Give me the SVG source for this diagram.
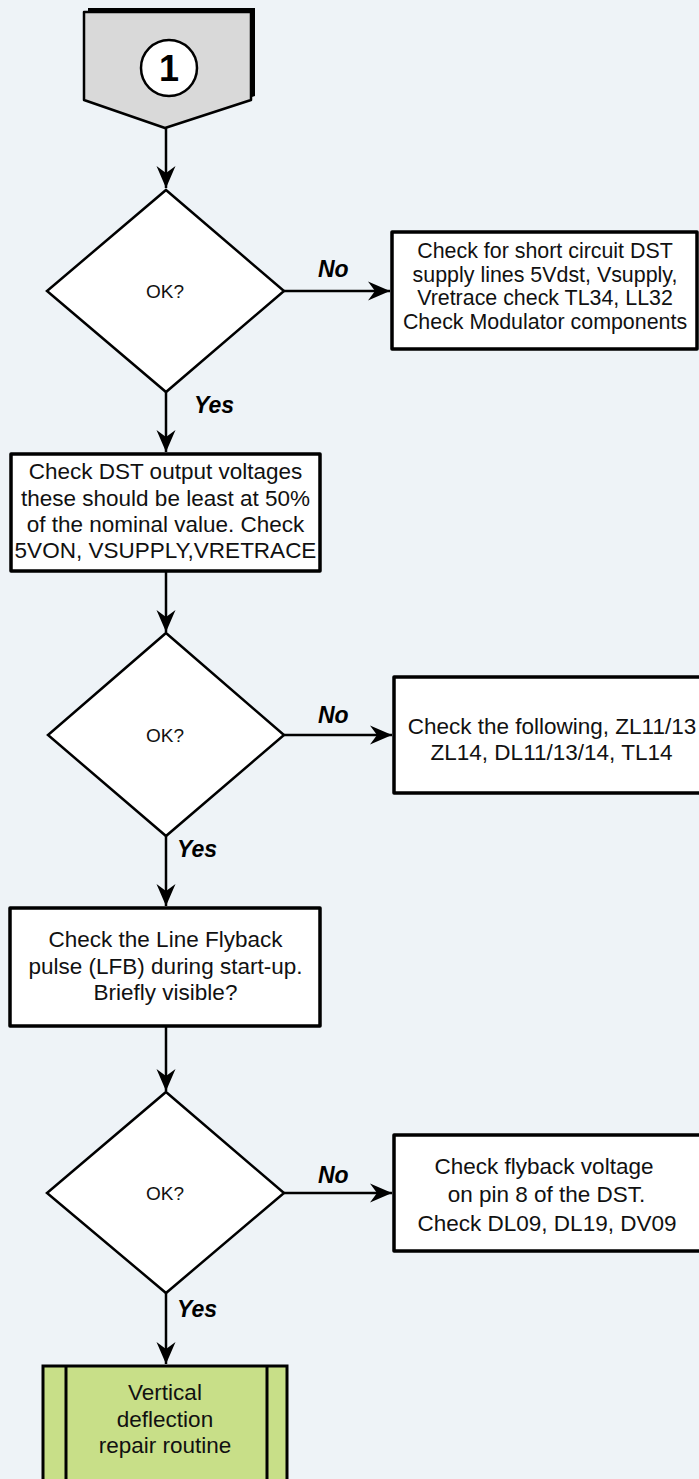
<svg xmlns="http://www.w3.org/2000/svg" width="699" height="1479" viewBox="0 0 699 1479">
<style>
.bg{fill:#eef3f7}
.box{fill:#ffffff;stroke:#000;stroke-width:3.5;stroke-linejoin:round}
.dia{fill:#ffffff;stroke:#000;stroke-width:2.5;stroke-linejoin:miter}
.t{font-family:"Liberation Sans",Arial,sans-serif;font-size:22.5px;fill:#111;text-anchor:middle}
.t1{font-family:"Liberation Sans",Arial,sans-serif;font-size:21.4px;fill:#111;text-anchor:middle}
.ok{font-family:"Liberation Sans",Arial,sans-serif;font-size:19px;fill:#111;text-anchor:middle}
.lbl{font-family:"Liberation Sans",Arial,sans-serif;font-size:23px;font-weight:bold;font-style:italic;fill:#000}
.conn line{stroke:#000;stroke-width:2.5;marker-end:url(#arr)}
</style>
<defs>
<marker id="arr" markerUnits="userSpaceOnUse" markerWidth="26" markerHeight="22" viewBox="-24 -11 26 22" refX="0" refY="0" orient="auto">
<path d="M0,0 L-22,-9.5 L-15,0 L-22,9.5 Z" fill="#000"/>
</marker>
</defs>
<rect class="bg" x="0" y="0" width="699" height="1479"/>

<g id="start">
<polygon points="88,8 255,8 255,96 169,124 88,96" fill="#000"/>
<polygon points="84,12 251,12 251,100 165,128 84,100" fill="#d9d9d9" stroke="#000" stroke-width="2.5" stroke-linejoin="round"/>
<circle cx="169" cy="68" r="28" fill="#fff" stroke="#000" stroke-width="2.5"/>
<text x="169" y="81" font-family="Liberation Sans,Arial,sans-serif" font-size="36" font-weight="bold" text-anchor="middle" fill="#000">1</text>
</g>

<g id="decision1">
<polygon class="dia" points="166,190 284,291 166,392 47,291"/>
<text class="ok" x="165" y="298">OK?</text>
</g>

<g id="box1">
<rect class="box" x="392" y="232" width="305" height="117"/>
<text class="t1" x="545" y="258">Check for short circuit DST</text>
<text class="t1" x="545" y="281.5">supply lines 5Vdst, Vsupply,</text>
<text class="t1" x="545" y="305">Vretrace check TL34, LL32</text>
<text class="t1" x="545" y="328.5">Check Modulator components</text>
</g>

<g id="box2">
<rect class="box" x="11" y="454" width="309" height="117"/>
<text class="t" x="165.5" y="479">Check DST output voltages</text>
<text class="t" x="165.5" y="506">these should be least at 50%</text>
<text class="t" x="165.5" y="532">of the nominal value. Check</text>
<text class="t" x="165.5" y="558">5VON, VSUPPLY,VRETRACE</text>
</g>

<g id="decision2">
<polygon class="dia" points="166,633 284,735 166,836 48,735"/>
<text class="ok" x="165" y="742">OK?</text>
</g>

<g id="box3">
<rect class="box" x="394" y="677" width="330" height="116"/>
<text class="t" x="552" y="733.5">Check the following, ZL11/13</text>
<text class="t" x="551.5" y="760">ZL14, DL11/13/14, TL14</text>
</g>

<g id="box4">
<rect class="box" x="10" y="908" width="310" height="118"/>
<text class="t" x="165.5" y="947">Check the Line Flyback</text>
<text class="t" x="165.5" y="974">pulse (LFB) during start-up.</text>
<text class="t" x="165.5" y="1000">Briefly visible?</text>
</g>

<g id="decision3">
<polygon class="dia" points="166,1092 284,1193 166,1293 47,1193"/>
<text class="ok" x="165" y="1200">OK?</text>
</g>

<g id="box5">
<rect class="box" x="394" y="1135" width="330" height="116"/>
<text class="t" x="544" y="1174">Check flyback voltage</text>
<text class="t" x="546.5" y="1202">on pin 8 of the DST.</text>
<text class="t" x="547" y="1231">Check DL09, DL19, DV09</text>
</g>

<g id="end">
<rect x="43" y="1366" width="244" height="130" fill="#c8df88" stroke="#000" stroke-width="3"/>
<line x1="66" y1="1366" x2="66" y2="1496" stroke="#000" stroke-width="3"/>
<line x1="267" y1="1366" x2="267" y2="1496" stroke="#000" stroke-width="3"/>
<text class="t" x="165" y="1400">Vertical</text>
<text class="t" x="165" y="1427">deflection</text>
<text class="t" x="165" y="1453">repair routine</text>
</g>

<g id="connectors" class="conn">
<line x1="166" y1="128" x2="166" y2="188"/>
<line x1="284" y1="291" x2="390" y2="291"/>
<line x1="166" y1="392" x2="166" y2="452"/>
<line x1="166" y1="571" x2="166" y2="632"/>
<line x1="284" y1="735" x2="392" y2="735"/>
<line x1="166" y1="836" x2="166" y2="906"/>
<line x1="166" y1="1026" x2="166" y2="1091"/>
<line x1="284" y1="1193" x2="392" y2="1193"/>
<line x1="166" y1="1293" x2="166" y2="1364"/>
</g>

<g id="labels">
<text class="lbl" x="318" y="277">No</text>
<text class="lbl" x="194" y="413">Yes</text>
<text class="lbl" x="318" y="723">No</text>
<text class="lbl" x="177" y="857">Yes</text>
<text class="lbl" x="318" y="1183">No</text>
<text class="lbl" x="177" y="1317">Yes</text>
</g>
</svg>
